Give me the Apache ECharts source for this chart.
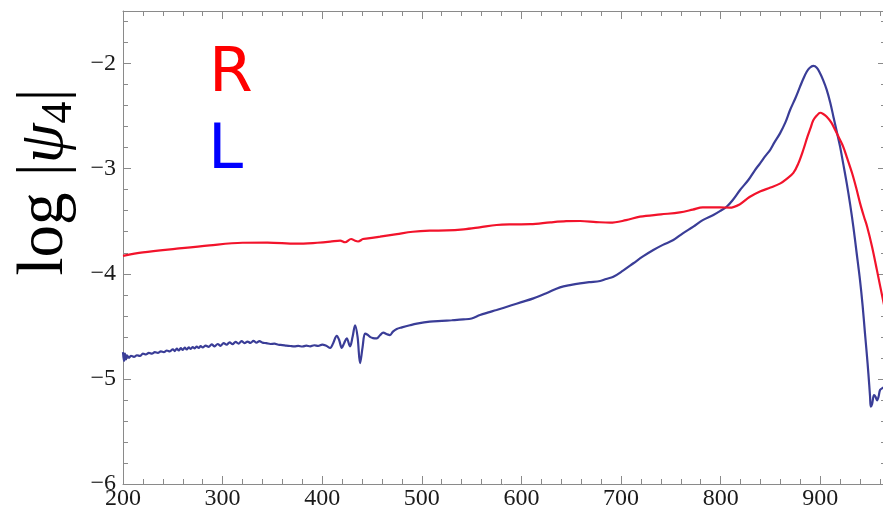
<!DOCTYPE html>
<html>
<head>
<meta charset="utf-8">
<script src="https://cdn.jsdelivr.net/npm/echarts@6/dist/echarts.min.js"></script>
<style>
  html, body { margin: 0; padding: 0; background: #ffffff; }
  #chart { width: 883px; height: 514px; }
</style>
</head>
<body>
<div id="chart"></div>
<script>
// Right-handed (R) component of log|psi4| against time
const rTime = [200,220,254,287,320,345,374,395,408,418,423,429,433,436,441,446,458,475,491,508,525,542,558,575,592,609,629,645,659,675,689,705,719,740,759,772,782,799,809,819,829,840,850,860,866,873,878,883,887,890,893,896.5,900,903,906.5,911,915,919,923,927,932,936,940,944,947,952,957,963,966];
const rValue = [-3.83,-3.797,-3.761,-3.729,-3.705,-3.703,-3.714,-3.705,-3.695,-3.684,-3.70,-3.669,-3.686,-3.693,-3.669,-3.664,-3.647,-3.622,-3.60,-3.59,-3.588,-3.577,-3.558,-3.536,-3.53,-3.528,-3.511,-3.50,-3.498,-3.508,-3.514,-3.49,-3.457,-3.435,-3.416,-3.39,-3.368,-3.368,-3.371,-3.34,-3.27,-3.215,-3.18,-3.14,-3.10,-3.04,-2.95,-2.82,-2.70,-2.62,-2.54,-2.495,-2.468,-2.48,-2.506,-2.56,-2.632,-2.71,-2.79,-2.90,-3.044,-3.18,-3.33,-3.46,-3.55,-3.742,-3.97,-4.25,-4.38];

// Left-handed (L) component of log|psi4| against time
const lTime = [200,201,202,203,204,206,208,211,214,217,220,223,226,229,232,235,238,241,244,247,250,252,254,256,258,260,262,264,266,268,270,272,274,276,278,280,283,286,289,292,295,298,301,304,307,310,313,316,319,322,325,328,331,334,337,340,344,348,352,356,360,364,368,372,376,380,384,388,392,396,400,404,408,411,414.6,417,419.6,422,424.6,427.9,430.5,433,435.5,438,440.5,443,445.5,448,451,454.7,458,461.3,465,468,471,474.8,480,488,495,508,520,530,541.7,550,558.4,566,575,590,600,612,625,638.7,650,658.8,668,679,685,692.3,702,712.4,722,732.4,742,752.5,762,772.6,782,792.7,800,806,812,819.5,827.8,834,839.6,844,849.6,854,859.6,865,869.7,875,879.7,883,886.4,889.5,893,896.5,899.8,903,906.5,910,913.2,916.5,919.9,923,926.6,930,933.2,936.5,939.9,942.5,944.9,946.6,948.3,950,950.7,952,954,955.5,957,958.5,960,962,966];
const lValue = [-4.745,-4.83,-4.76,-4.815,-4.775,-4.80,-4.78,-4.79,-4.775,-4.782,-4.76,-4.768,-4.752,-4.76,-4.745,-4.752,-4.738,-4.745,-4.73,-4.738,-4.718,-4.735,-4.712,-4.73,-4.708,-4.725,-4.703,-4.72,-4.70,-4.715,-4.697,-4.71,-4.692,-4.706,-4.688,-4.70,-4.683,-4.695,-4.672,-4.69,-4.668,-4.685,-4.66,-4.675,-4.652,-4.67,-4.648,-4.665,-4.64,-4.66,-4.645,-4.658,-4.638,-4.655,-4.64,-4.655,-4.66,-4.668,-4.665,-4.675,-4.678,-4.683,-4.687,-4.69,-4.686,-4.692,-4.684,-4.69,-4.68,-4.686,-4.674,-4.685,-4.705,-4.66,-4.59,-4.63,-4.705,-4.66,-4.615,-4.69,-4.60,-4.49,-4.60,-4.85,-4.70,-4.57,-4.58,-4.60,-4.612,-4.615,-4.585,-4.56,-4.575,-4.583,-4.55,-4.525,-4.51,-4.49,-4.475,-4.456,-4.448,-4.442,-4.434,-4.425,-4.393,-4.37,-4.345,-4.30,-4.27,-4.234,-4.185,-4.129,-4.105,-4.091,-4.08,-4.069,-4.05,-4.028,-3.97,-3.90,-3.835,-3.774,-3.725,-3.679,-3.615,-3.552,-3.49,-3.441,-3.40,-3.362,-3.30,-3.203,-3.108,-3.02,-2.949,-2.89,-2.823,-2.75,-2.664,-2.56,-2.442,-2.33,-2.22,-2.145,-2.078,-2.04,-2.023,-2.04,-2.093,-2.16,-2.25,-2.37,-2.505,-2.645,-2.79,-2.95,-3.14,-3.34,-3.552,-3.80,-4.06,-4.30,-4.567,-4.75,-4.947,-5.17,-5.265,-5.24,-5.154,-5.17,-5.205,-5.17,-5.106,-5.09,-5.07];

// Axis ranges and tick spacing
const xRange = [200, 966];
const yRange = [-6, -1.5];
const xMajor = 100, xMinor = 20;
const yMajor = 1, yMinor = 0.2;

const pairs = (xs, ys) => xs.map((x, i) => [x, ys[i]]);

const frameColor = '#8a8a8a';
const labelFont = { fontFamily: 'Liberation Serif', fontSize: 24, color: '#1a1a1a' };

function xAxisDef(position, interval, tickLen, withLine, withLabels) {
  return {
    type: 'value', position, min: xRange[0], max: xRange[1], interval,
    axisLine: { show: withLine, lineStyle: { color: frameColor, width: 1 } },
    axisTick: { show: true, inside: true, length: tickLen, lineStyle: { color: frameColor, width: 1 } },
    axisLabel: withLabels ? Object.assign({
      show: true, margin: 3,
      formatter: v => (v % 100 === 0 && v <= 900) ? String(v) : ''
    }, labelFont) : { show: false },
    splitLine: { show: false }
  };
}
function yAxisDef(position, interval, tickLen, withLine, withLabels) {
  return {
    type: 'value', position, min: yRange[0], max: yRange[1], interval,
    axisLine: { show: withLine, lineStyle: { color: frameColor, width: 1 } },
    axisTick: { show: true, inside: true, length: tickLen, lineStyle: { color: frameColor, width: 1 } },
    axisLabel: withLabels ? Object.assign({
      show: true, margin: 7,
      formatter: v => Number.isInteger(v) ? '\u2212' + Math.abs(v) : ''
    }, labelFont) : { show: false },
    splitLine: { show: false }
  };
}

const chart = echarts.init(document.getElementById('chart'), null, { renderer: 'canvas' });
chart.setOption({
  animation: false,
  backgroundColor: '#ffffff',
  // the frame runs slightly past the right edge of the canvas
  grid: { left: 123, top: 11, width: 763, height: 473, containLabel: false, outerBoundsMode: 'none' },
  xAxis: [
    xAxisDef('bottom', xMajor, 8, true, true),
    xAxisDef('bottom', xMinor, 5, false, false),
    xAxisDef('top', xMajor, 8, true, false),
    xAxisDef('top', xMinor, 5, false, false)
  ],
  yAxis: [
    yAxisDef('left', yMajor, 8, true, true),
    yAxisDef('left', yMinor, 5, false, false),
    yAxisDef('right', yMajor, 8, true, false),
    yAxisDef('right', yMinor, 5, false, false)
  ],
  series: [
    {
      name: 'R', type: 'line', xAxisIndex: 0, yAxisIndex: 0,
      data: pairs(rTime, rValue), showSymbol: false, smooth: 0.35,
      lineStyle: { color: '#f2132b', width: 2.2 }, z: 3
    },
    {
      name: 'L', type: 'line', xAxisIndex: 0, yAxisIndex: 0,
      data: pairs(lTime, lValue), showSymbol: false, smooth: 0.35,
      lineStyle: { color: '#3a3d97', width: 2.2 }, z: 2
    }
  ],
  graphic: [
    {
      type: 'text', x: 209, y: 43,
      style: { text: 'R', fontFamily: 'DejaVu Sans', fontSize: 63, fill: '#ff0000', align: 'left', verticalAlign: 'top' }
    },
    {
      type: 'text', x: 208, y: 120,
      style: { text: 'L', fontFamily: 'DejaVu Sans', fontSize: 63, fill: '#0000ff', align: 'left', verticalAlign: 'top' }
    },
    {
      type: 'text', x: 45, y: 182, rotation: Math.PI / 2,
      style: {
        text: '{m|log }{m||}{p|\u03c8}{s|4}{m||}',
        align: 'center', verticalAlign: 'middle',
        rich: {
          m: { fontFamily: 'Liberation Serif', fontSize: 65, lineHeight: 72, verticalAlign: 'middle', fill: '#000000' },
          p: { fontFamily: 'Liberation Serif', fontStyle: 'italic', fontSize: 64, lineHeight: 72, verticalAlign: 'middle', fill: '#000000' },
          s: { fontFamily: 'Liberation Serif', fontSize: 44, lineHeight: 40, verticalAlign: 'bottom', fill: '#000000' }
        }
      }
    }
  ]
});
</script>
</body>
</html>
